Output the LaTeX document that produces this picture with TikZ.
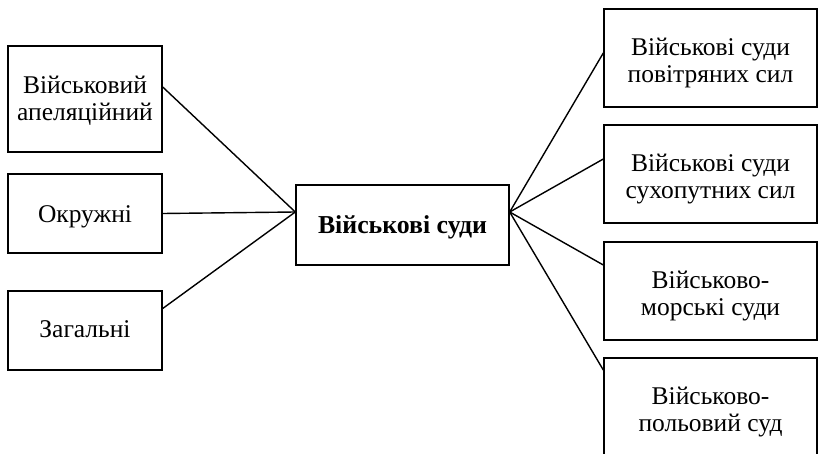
\documentclass[tikz,border=0pt]{standalone}
\usepackage{fontspec}
\setmainfont{Liberation Serif}
\usepackage{tikz}
\usetikzlibrary{positioning, calc}

\begin{document}
\begin{tikzpicture}[
    x=1pt, y=-1pt,
    font=\fontsize{25.5}{27}\selectfont,
    court/.style={rectangle, draw=black, line width=1.4pt, align=center, inner sep=2pt},
    leftcourt/.style={court, minimum width=154pt},
    rightcourt/.style={court, minimum width=213pt, minimum height=98pt, text height=55pt},
    link/.style={line width=1.4pt}
]
\useasboundingbox (0,0) rectangle (818,454);

% Central node
\node[court, minimum width=213pt, minimum height=80pt, text height=21.6pt, font=\fontsize{25.8}{27}\selectfont\bfseries] (main) at (402.5,225) {Військові суди};
\coordinate (mainin) at ($(main.west)+(0,-13)$);
\coordinate (mainout) at ($(main.east)+(0,-13)$);

% Left column
\node[leftcourt, minimum height=106pt, text height=47.5pt] (appeal) at (85,99) {Військовий\\апеляційний};
\node[leftcourt, minimum height=79pt, text height=24.4pt, text depth=5.5pt] (district) at (85,213.5) {Окружні};
\node[leftcourt, minimum height=79pt, text height=18.5pt, text depth=5.5pt] (general) at (85,330.5) {Загальні};

% Right column
\node[rightcourt] (air) at (710.5,58) {Військові суди\\повітряних сил};
\node[rightcourt] (land) at (710.5,174) {Військові суди\\сухопутних сил};
\node[rightcourt] (navy) at (710.5,291) {Військово-\\морські суди};
\node[rightcourt] (field) at (710.5,407) {Військово-\\польовий суд};

% Links to the left
\draw[link] ($(appeal.east)+(0,-12)$) -- (mainin);
\draw[link] (district.east) -- (mainin);
\draw[link] ($(general.east)+(0,-22)$) -- (mainin);

% Links to the right
\draw[link] (mainout) -- ($(air.west)+(0,-5)$);
\draw[link] (mainout) -- ($(land.west)+(0,-15)$);
\draw[link] (mainout) -- ($(navy.west)+(0,-26)$);
\draw[link] (mainout) -- ($(field.west)+(0,-37)$);

\end{tikzpicture}
\end{document}
